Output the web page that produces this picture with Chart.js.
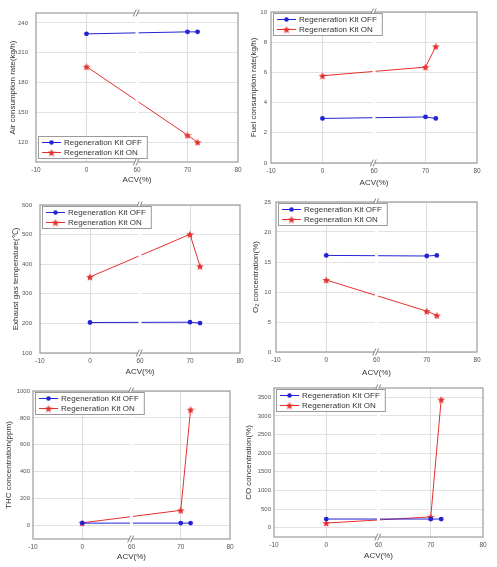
<!DOCTYPE html>
<html>
<head>
<meta charset="utf-8">
<script src="https://cdn.jsdelivr.net/npm/chart.js@4/dist/chart.umd.min.js"></script>
<style>
  body { margin: 0; background: #fff; width: 497px; height: 567px; position: relative; overflow: hidden; }
  canvas { position: absolute; }
</style>
</head>
<body>
<canvas id="c1"></canvas>
<canvas id="c2"></canvas>
<canvas id="c3"></canvas>
<canvas id="c4"></canvas>
<canvas id="c5"></canvas>
<canvas id="c6"></canvas>
<script>
// ACV values of the measurements and the (broken) x axis tick labels
const acv = [0, 70, 72];
const xTickLabels = [-10, 0, 60, 70, 80];
const seriesNames = ['Regeneration Kit OFF', 'Regeneration Kit ON'];

// series values
const airOff = [229, 231, 231];
const airOn = [196, 127, 120];
const fuelOff = [2.95, 3.05, 2.95];
const fuelOn = [5.78, 6.35, 7.72];
const exhaustOff = [203, 204, 201];
const exhaustOn = [357, 501, 393];
const o2Off = [16.1, 16.0, 16.1];
const o2On = [12.0, 6.8, 6.1];
const thcOff = [18, 18, 18];
const thcOn = [20, 113, 862];
const coOff = [232, 232, 232];
const coOn = [125, 290, 3440];

// y tick labels
const airTicks = [120, 150, 180, 210, 240];
const fuelTicks = [0, 2, 4, 6, 8, 10];
const exhaustTicks = [100, 200, 300, 400, 500, 600];
const o2Ticks = [0, 5, 10, 15, 20, 25];
const thcTicks = [0, 200, 400, 600, 800, 1000];
const coTicks = [0, 500, 1000, 1500, 2000, 2500, 3000, 3500];

// broken axis: -10..0 then 60..80, equal spacing per 10 units
const toAxis = v => v <= 0 ? v : v - 50;
const fromAxis = p => p <= 0 ? p : p + 50;

const BLUE = '#2323d6';
const RED = '#e5302c';
const FONT = "'Liberation Sans', Arial, sans-serif";
const TITLE_SIZE = 8;

// filled five point star used as marker
function makeStar(size, color) {
    const c = document.createElement('canvas');
    c.width = size; c.height = size;
    const g = c.getContext('2d');
    const cx = size / 2, cy = size / 2 + 0.4, R = size / 2, r = R * 0.45;
    g.beginPath();
    for (let i = 0; i < 10; i++) {
        const a = -Math.PI / 2 + i * Math.PI / 5;
        const rad = i % 2 ? r : R;
        g.lineTo(cx + rad * Math.cos(a), cy + rad * Math.sin(a));
    }
    g.closePath();
    g.fillStyle = color;
    g.fill();
    return c;
}
const star = makeStar(8, RED);

// frame, axis break and legend
const decorPlugin = {
    id: 'decor',
    afterDatasetsDraw(chart, args, opts) {
        const { ctx, chartArea: a } = chart;
        const bx = chart.scales.x.getPixelForValue(toAxis(60));
        ctx.save();
        // gap in the data lines at the break
        ctx.fillStyle = '#fff';
        ctx.fillRect(bx - 1.5, a.top + 1, 3, a.bottom - a.top - 2);
        // frame
        ctx.strokeStyle = '#a3a3a3';
        ctx.lineWidth = 1.3;
        ctx.strokeRect(a.left, a.top, a.right - a.left, a.bottom - a.top);
        // break marks
        [a.top, a.bottom].forEach(y => {
            ctx.fillStyle = '#fff';
            ctx.fillRect(bx - 2, y - 2, 3, 4);
            ctx.strokeStyle = '#777';
            ctx.lineWidth = 0.9;
            [-2.2, 0.6].forEach(dx => {
                ctx.beginPath();
                ctx.moveTo(bx + dx - 1.6, y + 3.5);
                ctx.lineTo(bx + dx + 1.6, y - 3.5);
                ctx.stroke();
            });
        });
        // legend
        ctx.font = '8px ' + FONT;
        const tw = Math.max(...seriesNames.map(s => ctx.measureText(s).width));
        const w = tw + 31, h = 22;
        const lx = a.left + 2;
        const ly = opts.bottom ? a.bottom - 4 - h : a.top + 1;
        ctx.fillStyle = '#fff';
        ctx.fillRect(lx, ly, w, h);
        ctx.strokeStyle = '#9a9a9a';
        ctx.lineWidth = 1;
        ctx.strokeRect(lx + 0.5, ly + 0.5, w, h);
        const cols = [BLUE, RED];
        seriesNames.forEach((name, i) => {
            const y = ly + 6.5 + i * 10;
            ctx.strokeStyle = cols[i];
            ctx.lineWidth = 1;
            ctx.beginPath();
            ctx.moveTo(lx + 4, y);
            ctx.lineTo(lx + 23, y);
            ctx.stroke();
            if (i === 0) {
                ctx.fillStyle = BLUE;
                ctx.beginPath();
                ctx.arc(lx + 13.5, y, 2.3, 0, Math.PI * 2);
                ctx.fill();
            } else {
                ctx.drawImage(star, lx + 9.5, y - 4);
            }
            ctx.fillStyle = '#333';
            ctx.textBaseline = 'middle';
            ctx.fillText(name, lx + 26, y + 0.5);
        });
        ctx.restore();
    }
};

// panel placement in page pixels: canvas box, plot area, title positions
const panels = [
    { id: 'c1', box: [0, 0, 248, 190], area: [36, 13, 238, 162], yT: 13, xT: 180, tp: 8,
      title: 'Air consumption rate(kg/h)', off: airOff, on: airOn, min: 100, max: 250, ticks: airTicks, legendBottom: true },
    { id: 'c2', box: [248, 0, 249, 190], area: [271, 12, 477, 163], yT: 254, xT: 183, tp: 4,
      title: 'Fuel consumption rate(kg/h)', off: fuelOff, on: fuelOn, min: 0, max: 10, ticks: fuelTicks },
    { id: 'c3', box: [0, 190, 248, 188], area: [40, 205, 240, 353], yT: 16, xT: 372, tp: 8,
      title: 'Exhaust gas temperature(\u2103)', off: exhaustOff, on: exhaustOn, min: 100, max: 600, ticks: exhaustTicks },
    { id: 'c4', box: [248, 190, 249, 188], area: [276, 202, 477, 352], yT: 256, xT: 373, tp: 5,
      title: 'O\u2082 concentration(%)', off: o2Off, on: o2On, min: 0, max: 25, ticks: o2Ticks },
    { id: 'c5', box: [0, 378, 240, 189], area: [33, 391, 230, 539], yT: 9, xT: 557, tp: 3,
      title: 'THC concentration(ppm)', off: thcOff, on: thcOn, min: -100, max: 1000, ticks: thcTicks },
    { id: 'c6', box: [238, 378, 259, 189], area: [274, 388, 483, 537], yT: 249, xT: 556, tp: 3,
      title: 'CO concentration(%)', off: coOff, on: coOn, min: -250, max: 3750, ticks: coTicks }
];

Chart.defaults.font.family = FONT;
Chart.defaults.color = '#555';

panels.forEach(p => {
    const cv = document.getElementById(p.id);
    const [bx, by, bw, bh] = p.box;
    cv.width = bw; cv.height = bh;
    cv.style.left = bx + 'px';
    cv.style.top = by + 'px';
    const L = p.area[0] - bx, T = p.area[1] - by, R = p.area[2] - bx, B = p.area[3] - by;
    const titleHalf = TITLE_SIZE * 1.2 / 2;
    const padLeft = p.yT - bx - titleHalf;
    const padBottom = bh - (p.xT - by) - titleHalf;

    new Chart(cv, {
        type: 'line',
        data: {
            datasets: [
                {
                    label: seriesNames[0],
                    data: acv.map((v, i) => ({ x: toAxis(v), y: p.off[i] })),
                    borderColor: BLUE, backgroundColor: BLUE, borderWidth: 1,
                    pointRadius: 2.4, pointStyle: 'circle', pointBorderWidth: 0
                },
                {
                    label: seriesNames[1],
                    data: acv.map((v, i) => ({ x: toAxis(v), y: p.on[i] })),
                    borderColor: RED, backgroundColor: RED, borderWidth: 1,
                    pointStyle: star, pointRadius: 4
                }
            ]
        },
        options: {
            responsive: false,
            animation: false,
            layout: { padding: { left: padLeft, top: T, right: bw - R, bottom: padBottom } },
            plugins: {
                legend: { display: false },
                tooltip: { enabled: false },
                decor: { bottom: !!p.legendBottom }
            },
            scales: {
                x: {
                    type: 'linear', min: toAxis(-10), max: toAxis(80),
                    afterBuildTicks: ax => { ax.ticks = xTickLabels.map(v => ({ value: toAxis(v) })); },
                    afterFit: ax => { ax.height = bh - padBottom - B; },
                    ticks: { callback: v => String(fromAxis(v)), font: { size: 6.5 }, padding: 4, maxRotation: 0 },
                    grid: {
                        drawTicks: false,
                        color: c => (c.tick && (c.tick.value === toAxis(0) || c.tick.value === toAxis(70))) ? '#dcdcdc' : 'rgba(0,0,0,0)'
                    },
                    border: { display: false },
                    title: { display: true, text: 'ACV(%)', color: '#333', font: { size: TITLE_SIZE }, padding: 0 }
                },
                y: {
                    type: 'linear', min: p.min, max: p.max,
                    afterBuildTicks: ax => { ax.ticks = p.ticks.map(v => ({ value: v })); },
                    afterFit: ax => { ax.width = L - padLeft; },
                    ticks: { callback: v => String(v), font: { size: 6 }, padding: p.tp },
                    grid: { drawTicks: false, color: '#e2e2e2' },
                    border: { display: false },
                    title: { display: true, text: p.title, color: '#333', font: { size: TITLE_SIZE }, padding: 0 }
                }
            }
        },
        plugins: [decorPlugin]
    });
});
</script>
</body>
</html>
